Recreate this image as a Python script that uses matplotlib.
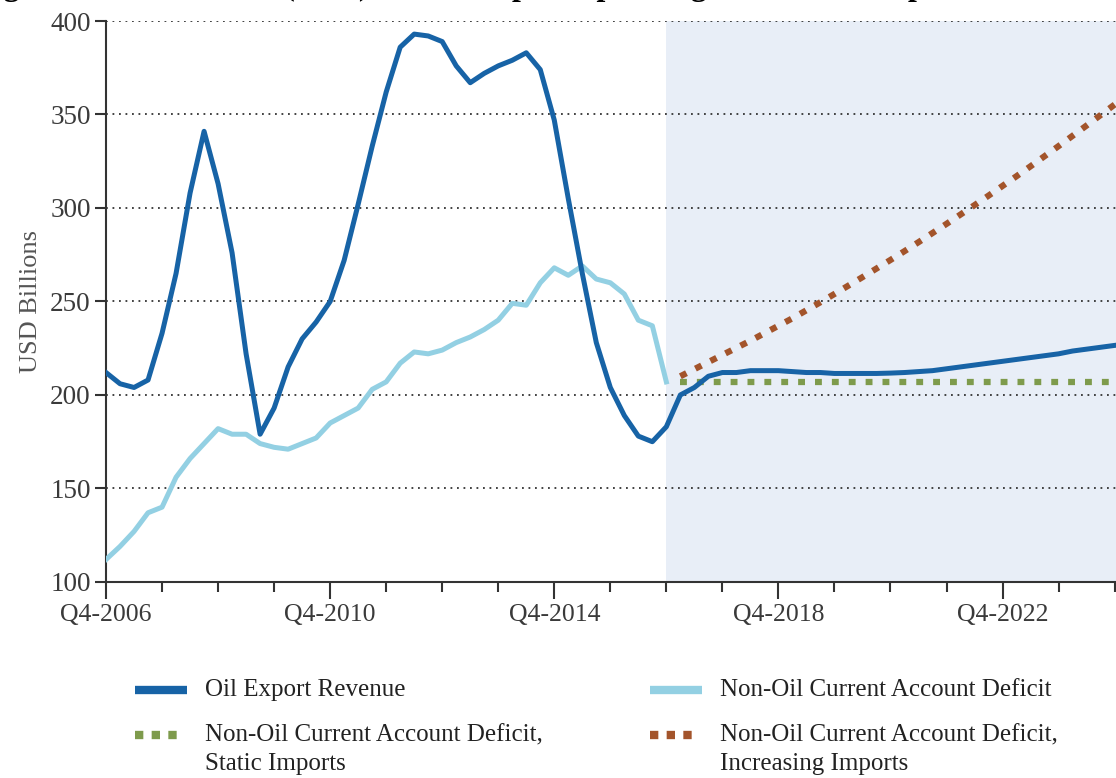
import numpy as np
import matplotlib
matplotlib.use('Agg')
import matplotlib.pyplot as plt
from matplotlib.lines import Line2D

plt.rcParams['font.family'] = ['Liberation Serif', 'DejaVu Serif']

# DATA (quarterly, index 0 = Q4-2006)
tick_pos = [0, 16, 32, 48, 64]
tick_labels = ['Q4-2006', 'Q4-2010', 'Q4-2014', 'Q4-2018', 'Q4-2022']

oil_hist = [212, 206, 204, 208, 233, 265, 308, 341, 313, 276, 222, 179, 193, 215,
            230, 239, 250, 272, 302, 333, 362, 386, 393, 392, 389, 376, 367, 372,
            376, 379, 383, 374, 347, 305, 265, 228, 204, 189, 178, 175, 183]
oil_proj = [200, 204, 210, 212, 212, 213, 213, 213, 212.5, 212, 212, 211.5, 211.5,
            211.5, 211.5, 211.7, 212, 212.5, 213, 214, 215, 216, 217, 218, 219, 220,
            221, 222, 223.5, 224.5, 225.5, 226.5]
nonoil_hist = [112, 119, 127, 137, 140, 156, 166, 174, 182, 179, 179, 174, 172, 171,
               174, 177, 185, 189, 193, 203, 207, 217, 223, 222, 224, 228, 231, 235,
               240, 249, 248, 260, 268, 264, 269, 262, 260, 254, 240, 237, 207]
static_imports = [207] * 32
increasing_imports = [210, 213.8, 217.6, 221.4, 225.2, 229, 233, 237, 241, 245.3,
                      249.6, 254, 258.5, 263, 267.6, 272.2, 276.9, 281.7, 286.6,
                      291.5, 296.5, 301.5, 306.6, 311.8, 317, 322.3, 327.7, 333.1,
                      338.6, 344.1, 349.7, 355.3]

# COLOURS
c_oil = '#1763a6'
c_nonoil = '#93d0e3'
c_static = '#7e9b4c'
c_incr = '#a3542b'
c_shade = '#e8eef7'
c_text = '#3a3a3a'

oil = oil_hist + oil_proj
q_all = np.arange(len(oil))
q_hist = np.arange(len(nonoil_hist))
q_proj = np.arange(len(oil_hist), len(oil_hist) + len(static_imports))
last = len(oil) - 1

W, H = 1116, 778
fig = plt.figure(figsize=(W / 100, H / 100), dpi=100)
ax = fig.add_axes([0.095, 0.252, 0.905, 0.721])

ax.axvspan(len(nonoil_hist) - 1, last + 1, color=c_shade, zorder=0, lw=0)

for v in range(150, 401, 50):
    ax.axhline(v, color='#333333', lw=1.3, ls=(0, (1, 2.6)), zorder=1)

dot = (0, (1.1, 1.6))
ax.plot(q_proj, static_imports, color=c_static, lw=4.5, ls=dot, zorder=2)
ax.plot(q_proj, increasing_imports, color=c_incr, lw=4.5, ls=dot, zorder=2)
ax.plot(q_hist, nonoil_hist, color=c_nonoil, lw=3.6, zorder=3)
ax.plot(q_all, oil, color=c_oil, lw=3.6, zorder=4)

ax.set_xlim(0, last + 0.1)
ax.set_ylim(100, 400)
ax.set_yticks(range(100, 401, 50))
ax.set_xticks(tick_pos)
ax.set_xticklabels(tick_labels)
ax.set_xticks(range(0, last + 1, 4), minor=True)
ax.tick_params(axis='x', which='major', length=12, width=1.5, color='#333333',
               labelsize=18.5, labelcolor=c_text, pad=4)
ax.tick_params(axis='x', which='minor', length=7, width=1.5, color='#333333')
ax.tick_params(axis='y', length=8, width=1.5, color='#333333',
               labelsize=19.5, labelcolor=c_text, pad=3)
for s in ['top', 'right']:
    ax.spines[s].set_visible(False)
for s in ['left', 'bottom']:
    ax.spines[s].set_color('#333333')
    ax.spines[s].set_linewidth(1.5)
ax.set_ylabel('USD Billions', fontsize=19, color='#555555', labelpad=6)

# cropped title at the very top of the picture (only its descenders show)
fig.text(-25 / W, 1.0 + 5 / H,
         'Figure 5: Oil Revenue (Base) versus Import Spending, Static and Import Growth',
         fontsize=23, fontweight='bold', va='baseline', ha='left')

# legend, drawn in figure pixels
def px(x, y):
    return x / W, 1 - y / H

legend_rows = [
    (135, 690, 52, c_oil, '-', 'Oil Export Revenue'),
    (135, 735, 46, c_static, (0, (1, 1.0)), 'Non-Oil Current Account Deficit,\nStatic Imports'),
    (650, 690, 52, c_nonoil, '-', 'Non-Oil Current Account Deficit'),
    (650, 735, 46, c_incr, (0, (1, 1.0)), 'Non-Oil Current Account Deficit,\nIncreasing Imports'),
]
for x0, y0, length, col, style, label in legend_rows:
    xa, ya = px(x0, y0)
    xb, _ = px(x0 + length, y0)
    fig.add_artist(Line2D([xa, xb], [ya, ya], color=col, lw=6, ls=style,
                          transform=fig.transFigure, solid_capstyle='butt'))
    xt, yt = px(x0 + 70, y0 - 11)
    fig.text(xt, yt, label, fontsize=18, color='#222222', va='top', ha='left',
             linespacing=1.4)

fig.savefig('out.png', dpi=100)
